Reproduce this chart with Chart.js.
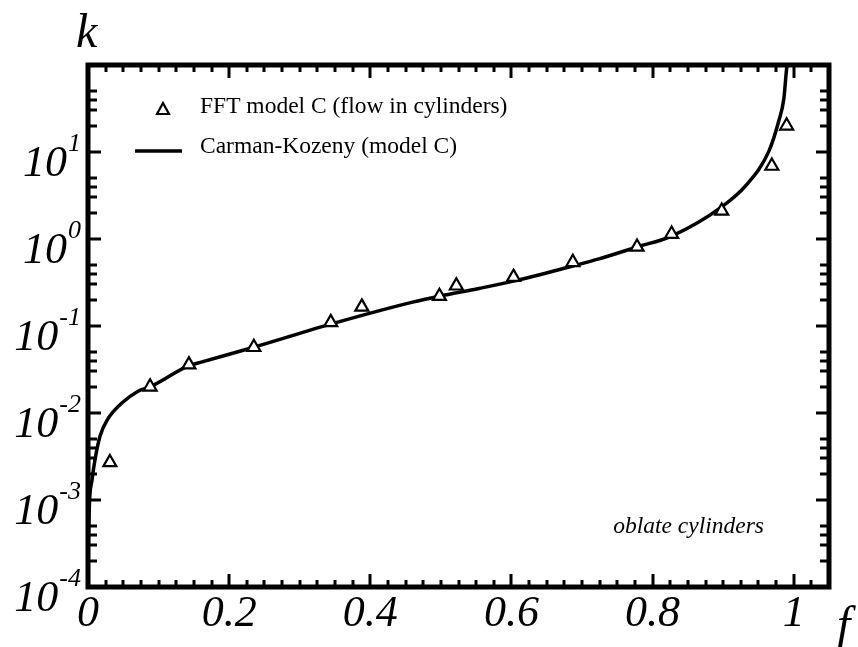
<!DOCTYPE html>
<html>
<head>
<meta charset="utf-8">
<script src="https://cdn.jsdelivr.net/npm/chart.js@4.4.1/dist/chart.umd.min.js"></script>
<style>
  body { margin: 0; background: #fff; }
  #wrap { width: 858px; height: 647px; }
</style>
</head>
<body>
<div id="wrap"><canvas id="my-chart" width="858" height="647"></canvas></div>
<script>
// FFT model C points
const fftF = [0.031, 0.088, 0.143, 0.235, 0.344, 0.388, 0.498, 0.522, 0.603, 0.687, 0.778, 0.827, 0.898, 0.969, 0.990];
const fftK = [0.0027, 0.020, 0.036, 0.057, 0.11, 0.166, 0.22, 0.29, 0.365, 0.54, 0.81, 1.14, 2.1, 6.9, 20];

// Carman-Kozeny curve, sampled along the drawn line
const ckF = [0.0005, 0.002, 0.0057, 0.0099, 0.017, 0.028, 0.048, 0.071, 0.088, 0.143, 0.158, 0.235, 0.344, 0.46, 0.498, 0.554, 0.603, 0.687, 0.724, 0.778, 0.827, 0.898, 0.932, 0.965, 0.979, 0.986, 0.990, 0.993];
const ckK = [0.0003, 0.0009, 0.0017, 0.0029, 0.0054, 0.0085, 0.013, 0.0178, 0.020, 0.035, 0.038, 0.057, 0.105, 0.188, 0.22, 0.27, 0.328, 0.49, 0.59, 0.81, 1.08, 2.34, 4.1, 10.3, 23, 41, 91, 130];

const xTickValues = [0, 0.2, 0.4, 0.6, 0.8, 1];
const xTickLabels = ['0', '0.2', '0.4', '0.6', '0.8', '1'];
const yTickExponents = [-4, -3, -2, -1, 0, 1];
const yMinorFactors = [2, 3, 4, 5];

const serif = '"Liberation Serif", "Times New Roman", serif';

const frame = {
  id: 'frame',
  afterDraw(chart) {
    const ctx = chart.ctx;
    const { left, right, top, bottom } = chart.chartArea;
    const xs = chart.scales.x;
    const ys = chart.scales.y;
    ctx.save();
    ctx.strokeStyle = '#000';
    ctx.fillStyle = '#000';

    // x ticks (top and bottom, pointing in)
    ctx.lineWidth = 3;
    ctx.beginPath();
    for (let i = 1; i * 0.025 < 1.05; i++) {
      const v = i * 0.025;
      const px = Math.round(xs.getPixelForValue(v));
      const len = (i % 8 === 0) ? 13 : 7;
      ctx.moveTo(px, bottom); ctx.lineTo(px, bottom - len);
      ctx.moveTo(px, top); ctx.lineTo(px, top + len);
    }
    // y ticks (left and right)
    for (let e = -4; e <= 1; e++) {
      [1].concat(yMinorFactors).forEach(f => {
        const v = f * Math.pow(10, e);
        const py = Math.round(ys.getPixelForValue(v));
        const len = f === 1 ? 13 : 9;
        ctx.moveTo(left, py); ctx.lineTo(left + len, py);
        ctx.moveTo(right, py); ctx.lineTo(right - len, py);
      });
    }
    ctx.stroke();

    // frame
    ctx.lineWidth = 5;
    ctx.strokeRect(left, top, right - left, bottom - top);

    // x labels
    ctx.font = 'italic 44px ' + serif;
    ctx.textAlign = 'center';
    ctx.textBaseline = 'alphabetic';
    xTickValues.forEach((v, i) => {
      ctx.fillText(xTickLabels[i], xs.getPixelForValue(v), 626);
    });

    // y labels 10^n
    ctx.textAlign = 'right';
    yTickExponents.forEach(e => {
      const py = ys.getPixelForValue(Math.pow(10, e));
      ctx.font = 'italic 26px ' + serif;
      const exp = String(e);
      const w = ctx.measureText(exp).width;
      ctx.fillText(exp, 81, py - 1);
      ctx.font = 'italic 44px ' + serif;
      ctx.fillText('10', 81 - w - 1, py + 24);
    });

    // axis titles
    ctx.textAlign = 'left';
    ctx.font = 'italic 48px ' + serif;
    ctx.fillText('k', 76, 47);
    ctx.fillText('f', 837, 640);

    // legend
    const ds = chart.data.datasets;
    ctx.lineWidth = 2.2;
    ctx.beginPath();
    ctx.moveTo(163, 103); ctx.lineTo(169, 114); ctx.lineTo(157, 114); ctx.closePath();
    ctx.stroke();
    ctx.lineWidth = 3.5;
    ctx.beginPath();
    ctx.moveTo(135, 151); ctx.lineTo(182, 151);
    ctx.stroke();
    ctx.font = '23.5px ' + serif;
    ctx.fillText(ds[0].label, 200, 113);
    ctx.fillText(ds[1].label, 200, 153);

    // annotation
    ctx.font = 'italic 23.5px ' + serif;
    ctx.textAlign = 'right';
    ctx.fillText('oblate cylinders', 764, 533);
    ctx.restore();
  }
};

const ctx = document.getElementById('my-chart').getContext('2d');
const chart = new Chart(ctx, {
  type: 'scatter',
  data: {
    datasets: [
      {
        label: 'FFT model C (flow in cylinders)',
        data: fftF.map((f, i) => ({ x: f, y: fftK[i] })),
        pointStyle: 'triangle',
        pointRadius: 7.5,
        pointBackgroundColor: '#fff',
        pointBorderColor: '#000',
        pointBorderWidth: 2.2,
        showLine: false
      },
      {
        label: 'Carman-Kozeny (model C)',
        data: ckF.map((f, i) => ({ x: f, y: ckK[i] })),
        showLine: true,
        borderColor: '#000',
        borderWidth: 3.5,
        pointRadius: 0,
        cubicInterpolationMode: 'monotone'
      }
    ]
  },
  options: {
    responsive: false,
    animation: false,
    layout: { padding: { left: 88, top: 65, right: 29, bottom: 60 } },
    plugins: { legend: { display: false }, tooltip: { enabled: false } },
    scales: {
      x: { type: 'linear', min: 0, max: 1.05, display: false },
      y: { type: 'logarithmic', min: 1e-4, max: 1e2, display: false }
    }
  },
  plugins: [frame]
});
</script>
</body>
</html>
